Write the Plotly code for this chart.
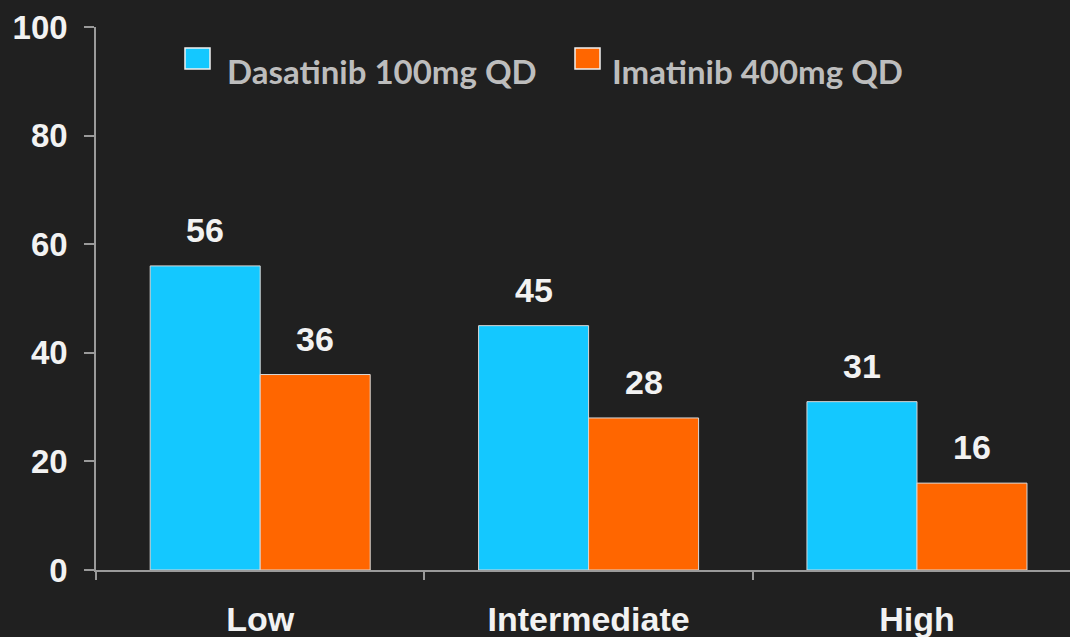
import plotly.graph_objects as go

# Response by risk group
categories = ["Low", "Intermediate", "High"]
dasatinib = [56, 45, 31]
imatinib = [36, 28, 16]
series_names = ["Dasatinib 100mg QD", "Imatinib 400mg QD"]
y_ticks = [0, 20, 40, 60, 80, 100]

BG = "#202020"
BLUE = "#14C8FF"
ORANGE = "#FF6600"
AXIS = "#9a9a9a"
TEXT = "#f2f2f2"
LEGEND_TEXT = "#bdbdbd"
BOLD_FONT = "Liberation Sans"

fig = go.Figure()
for name, vals, color in [(series_names[0], dasatinib, BLUE),
                          (series_names[1], imatinib, ORANGE)]:
    fig.add_trace(go.Bar(
        x=categories, y=vals, name=name,
        marker=dict(color=color, line=dict(color="#d8d8d8", width=1)),
        showlegend=False,
    ))

# value labels above each bar
bar_half = 55
for vals, shift in [(dasatinib, -bar_half), (imatinib, bar_half)]:
    for c, v in zip(categories, vals):
        fig.add_annotation(
            x=c, y=v, text=f"<b>{v}</b>", showarrow=False,
            xshift=shift, yanchor="bottom", yshift=15,
            font=dict(family=BOLD_FONT, size=34, color=TEXT),
        )

# legend drawn as swatches + labels
legend_items = [
    (series_names[0], BLUE, 185, 48, 225),
    (series_names[1], ORANGE, 575, 48, 610),
]
W, H = 1070, 637
for name, color, sx, sy, tx in legend_items:
    fig.add_shape(
        type="rect", xref="paper", yref="paper",
        x0=(sx - 96) / (W - 96), x1=(sx + 25 - 96) / (W - 96),
        y0=(570 - sy - 21) / 543, y1=(570 - sy) / 543,
        fillcolor=color, line=dict(color="#f0f0f0", width=1.5),
    )
    fig.add_annotation(
        xref="paper", yref="paper",
        x=(tx - 96) / (W - 96), y=(570 - 71) / 543,
        xanchor="left", yanchor="middle", showarrow=False,
        text=f"<b>{name}</b>",
        font=dict(family="Lato", size=33, color=LEGEND_TEXT),
    )

fig.update_layout(
    width=W, height=H,
    paper_bgcolor=BG, plot_bgcolor=BG,
    margin=dict(l=96, r=0, t=27, b=67),
    barmode="group", bargap=0.33, bargroupgap=0,
    xaxis=dict(
        range=[-0.5, 2.466], showgrid=False, zeroline=False,
        showline=True, linecolor=AXIS, linewidth=1.5,
        ticks="outside", tickson="boundaries", ticklen=8,
        tickcolor=AXIS, tickwidth=1.5,
        tickfont=dict(family=BOLD_FONT, size=34, color=TEXT),
        ticklabelstandoff=18,
        tickvals=categories, ticktext=[f"<b>{c}</b>" for c in categories],
    ),
    yaxis=dict(
        range=[0, 100], showgrid=False, zeroline=False,
        showline=True, linecolor=AXIS, linewidth=1.5,
        ticks="outside", ticklen=10, tickcolor=AXIS, tickwidth=1.5,
        tickvals=y_ticks, ticktext=[f"<b>{t}</b>" for t in y_ticks],
        tickfont=dict(family=BOLD_FONT, size=33, color=TEXT),
        ticklabelstandoff=10,
    ),
)

fig.write_html("out.html")
